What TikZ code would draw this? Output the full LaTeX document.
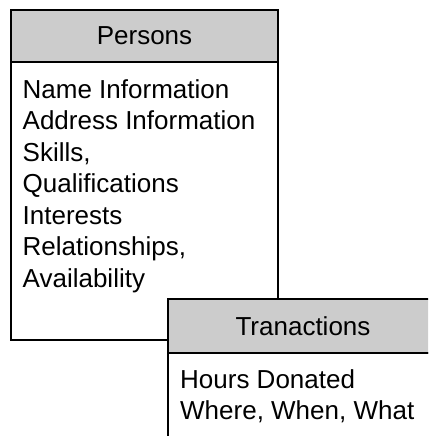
\documentclass[tikz,border=0pt]{standalone}
\usepackage{fontspec}
\setmainfont{Liberation Sans}
\definecolor{hdrgray}{RGB}{204,204,204}
\begin{document}
\begin{tikzpicture}[x=1pt,y=-1pt,
  boxline/.style={draw=black,line width=1.5pt},
  hdr/.style={boxline,fill=hdrgray,rectangle,inner sep=0pt,font=\fontsize{26}{31}\selectfont},
  bodytxt/.style={inner sep=0pt,align=left,anchor=north west,font=\fontsize{26}{31.5}\selectfont}]
\useasboundingbox (0,0) rectangle (428,436);
\clip (0,0) rectangle (428,436);
% Persons
\draw[boxline,fill=white] (11,62) rectangle (278,340);
\node[hdr,minimum width=267pt,minimum height=52pt] (phead) at (144.5,36) {Persons};
\node[bodytxt] (pbody) at (22.5,79) {Name Information\\Address Information\\Skills,\\Qualifications\\Interests\\Relationships,\\Availability};
% Tranactions
\draw[boxline,fill=white] (168,353) rectangle (438,500);
\node[hdr,minimum width=270pt,minimum height=54pt] (thead) at (303,326) {Tranactions};
\node[bodytxt,font=\fontsize{26}{31}\selectfont] (tbody) at (180,369.5) {Hours Donated\\Where, When, What};
\end{tikzpicture}
\end{document}
